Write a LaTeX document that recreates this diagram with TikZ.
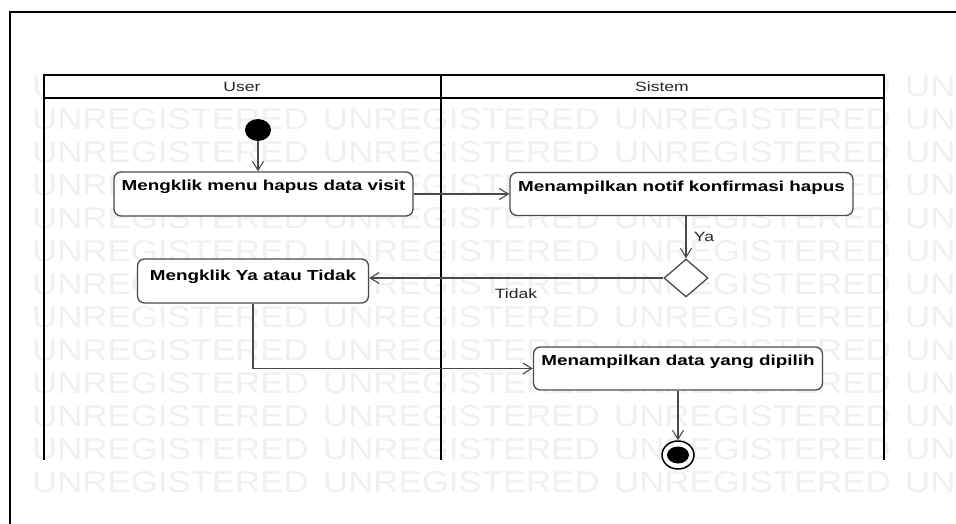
\documentclass[tikz,border=0pt]{standalone}
\usepackage{fontspec}
\setmainfont{Liberation Sans}
\usetikzlibrary{arrows.meta,shapes.geometric}
\definecolor{edge}{HTML}{4A4A4A}
\definecolor{wm}{HTML}{F0F0F0}
\begin{document}
\begin{tikzpicture}[x=1pt,y=-1pt,
  act/.style={draw=edge, line width=1.3pt, fill=white, rounded corners=7pt, inner sep=0pt},
  acttext/.style={anchor=base, inner sep=0pt, font=\fontsize{14.5}{16}\selectfont\bfseries},
  arr/.style={draw=edge, line width=1.1pt, -{Straight Barb[length=9pt,width=11pt]}},
  lab/.style={font=\fontsize{13.5}{15}\selectfont, inner sep=0pt, text=black!85},
  wmark/.style={anchor=west, inner sep=0pt, text=wm, font=\fontsize{30}{32}\selectfont},
  lane/.style={line width=2pt, draw=black}]
\useasboundingbox (0,0) rectangle (956,524);
\clip (0,0) rectangle (956,524);
\fill[white] (0,0) rectangle (956,524);
% watermark
\foreach \i in {0,...,12}{
  \foreach \xx in {32,323,614,905}{
    \node[wmark] (wm-\i-\xx) at (\xx, 86+33*\i) {\scalebox{1.16}[1]{UNREGISTERED}};
  }
}
% outer frame
\draw[line width=2.5pt] (10,524) -- (10,12) -- (956,12);
% swimlanes
\fill[white] (44,75) rectangle (884,98);
\draw[lane] (44,460) -- (44,75) -- (884,75) -- (884,460);
\draw[lane] (441,75) -- (441,460);
\draw[line width=2.2pt] (44,98) -- (884,98);
\node[lab] (hU) at (242,87) {\scalebox{1.3}[1]{User}};
\node[lab] (hS) at (662,87) {\scalebox{1.3}[1]{Sistem}};
% nodes
\node[ellipse, fill=black, minimum width=26pt, minimum height=22pt, inner sep=0pt] (start) at (258,130) {};
\node[act, minimum width=299pt, minimum height=44pt] (b1) at (263.5,194) {};
\node[act, minimum width=343pt, minimum height=43pt] (b2) at (681.5,194) {};
\node[diamond, draw=edge, line width=1.3pt, fill=white, minimum width=44pt, minimum height=38pt, inner sep=0pt] (dec) at (686,278) {};
\node[act, minimum width=231pt, minimum height=44pt] (b3) at (253,281) {};
\node[act, minimum width=289pt, minimum height=43pt] (b4) at (678,368.5) {};
\node[ellipse, draw=black, line width=1.5pt, fill=white, minimum width=32pt, minimum height=28pt, inner sep=0pt] (end) at (678,455) {};
\node[ellipse, fill=black, minimum width=22pt, minimum height=17pt, inner sep=0pt] (endin) at (end) {};
% texts
\node[acttext] (t1) at ([yshift=-19pt]b1.north) {\scalebox{1.3}[1]{Mengklik menu hapus data visit}};
\node[acttext] (t2) at ([yshift=-20pt]b2.north) {\scalebox{1.3}[1]{Menampilkan notif konfirmasi hapus}};
\node[acttext] (t3) at ([yshift=-22pt]b3.north) {\scalebox{1.3}[1]{Mengklik Ya atau Tidak}};
\node[acttext] (t4) at ([yshift=-19pt]b4.north) {\scalebox{1.3}[1]{Menampilkan data yang dipilih}};
% connectors
\draw[arr] (start.south) -- (start.south |- b1.north);
\draw[arr] (b1.east) -- (b2.west);
\draw[arr] (dec.north |- b2.south) -- (dec.north);
\draw[arr] (dec.west) -- (dec.west -| b3.east);
\draw[arr] (b3.south) -- (b3.south |- b4.west) -- (b4.west);
\draw[arr] (b4.south) -- (end.north);
\node[lab] (ya) at (704,237) {\scalebox{1.3}[1]{Ya}};
\node[lab] (tidak) at (516,294) {\scalebox{1.3}[1]{Tidak}};
\end{tikzpicture}
\end{document}
